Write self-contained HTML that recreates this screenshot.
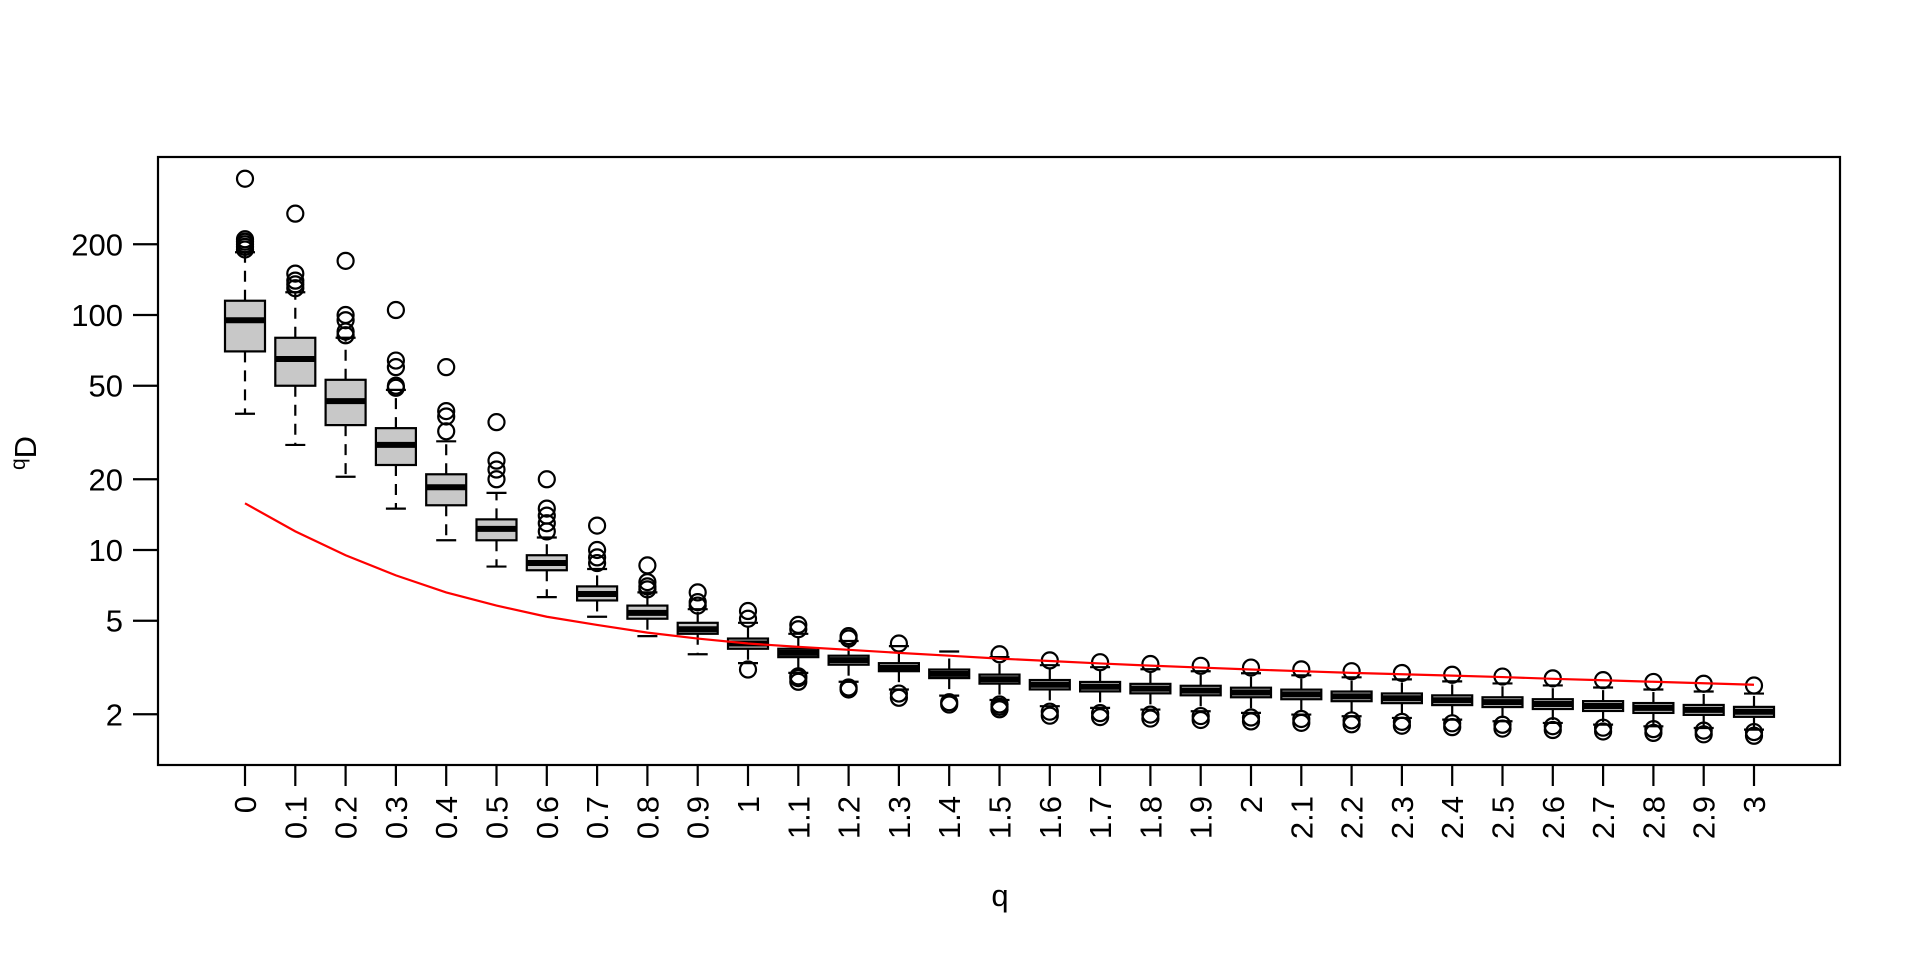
<!DOCTYPE html>
<html><head><meta charset="utf-8"><style>
html,body{margin:0;padding:0;background:#fff;}
svg{display:block;font-family:"Liberation Sans",Arial,sans-serif;}
</style></head><body>
<svg id="s" width="1920" height="960" xmlns="http://www.w3.org/2000/svg"></svg>
<script>
const s=document.getElementById('s');
let h='';
const Y=v=>550-235*Math.log10(v/10);
const X=i=>245+i*50.3;
const SW=2.2;
h+=`<rect x="158" y="157" width="1682" height="608" fill="none" stroke="#000" stroke-width="${SW}"/>`;
[[200,'200'],[100,'100'],[50,'50'],[20,'20'],[10,'10'],[5,'5'],[2,'2']].forEach(([v,t])=>{
 const y=Y(v);h+=`<line x1="133" x2="158" y1="${y}" y2="${y}" stroke="#000" stroke-width="${SW}"/>`;
 h+=`<text x="123" y="${y+11}" font-size="31" text-anchor="end">${t}</text>`;});
const D=[
[70,115,95,38,185,[190,195,200,205,210,380]],
[50,80,65,28,125,[130,135,140,150,270]],
[34,53,43,20.5,80,[82,85,95,100,170]],
[23,33,28,15,48,[49,50,60,64,105]],
[15.5,21,18.5,11,29,[32,37,39,60]],
[11,13.5,12.3,8.5,17.5,[20,22,24,35]],
[8.2,9.5,8.8,6.3,11.3,[12,13,14,15,20]],
[6.1,7,6.5,5.2,8.3,[8.8,9.3,10,12.7]],
[5.1,5.8,5.4,4.3,6.6,[6.8,7,7.3,8.6]],
[4.4,4.9,4.6,3.6,5.6,[5.8,6,6.6]],
[3.8,4.2,4.0,3.3,4.9,[3.1,5.1,5.5]],
[3.5,3.8,3.65,3.0,4.4,[2.75,2.85,2.9,4.6,4.8]],
[3.25,3.55,3.4,2.75,4.1,[2.55,2.6,4.2,4.3]],
[3.05,3.3,3.15,2.55,3.9,[2.35,2.45,4.0]],
[2.85,3.1,2.97,2.4,3.7,[2.2,2.25]],
[2.7,2.95,2.82,2.3,3.5,[2.1,2.15,2.2,3.6]]];
for(let i=16;i<=30;i++){const f=(i-15)/15;const g=(a,b)=>a*Math.pow(b/a,f);
 D.push([g(2.6,1.95),g(2.85,2.15),g(2.72,2.05),g(2.2,1.72),g(3.3,2.45),[g(2.0,1.62),g(2.08,1.68),g(3.45,2.65)]]);}
D.forEach((d,i)=>{const x=X(i),w=20,c=10;
 h+=`<line x1="${x}" x2="${x}" y1="${Y(d[1])}" y2="${Y(d[4])}" stroke="#000" stroke-width="${SW}" stroke-dasharray="11,8"/>`;
 h+=`<line x1="${x}" x2="${x}" y1="${Y(d[0])}" y2="${Y(d[3])}" stroke="#000" stroke-width="${SW}" stroke-dasharray="11,8"/>`;
 h+=`<line x1="${x-c}" x2="${x+c}" y1="${Y(d[4])}" y2="${Y(d[4])}" stroke="#000" stroke-width="${SW}"/>`;
 h+=`<line x1="${x-c}" x2="${x+c}" y1="${Y(d[3])}" y2="${Y(d[3])}" stroke="#000" stroke-width="${SW}"/>`;
 h+=`<rect x="${x-w}" y="${Y(d[1])}" width="${2*w}" height="${Y(d[0])-Y(d[1])}" fill="#c8c8c8" stroke="#000" stroke-width="${SW}"/>`;
 h+=`<line x1="${x-w}" x2="${x+w}" y1="${Y(d[2])}" y2="${Y(d[2])}" stroke="#000" stroke-width="6"/>`;
 d[5].forEach(v=>{h+=`<circle cx="${x}" cy="${Y(v)}" r="8" fill="none" stroke="#000" stroke-width="${SW}"/>`;});
 h+=`<line x1="${x}" x2="${x}" y1="765" y2="786" stroke="#000" stroke-width="${SW}"/>`;
 const t=(i/10).toString();
 h+=`<text transform="translate(${x+11},796) rotate(-90)" font-size="31" text-anchor="end">${t}</text>`;
});
const R=[15.8,12,9.5,7.8,6.6,5.8,5.2,4.8,4.45,4.2,4.0,3.87,3.76,3.65,3.55,3.45,3.37,3.29,3.22,3.16,3.1,3.05,3.0,2.96,2.92,2.88,2.83,2.79,2.75,2.71,2.67];
h+='<polyline fill="none" stroke="#ff0000" stroke-width="2.2" points="'+R.map((v,i)=>X(i)+','+Y(v)).join(' ')+'"/>';
h+='<text x="1000" y="906" font-size="31" text-anchor="middle">q</text>';
h+='<text transform="translate(36,453) rotate(-90)" font-size="31" text-anchor="middle"><tspan font-size="21" dy="-11">q</tspan><tspan dy="11">D</tspan></text>';
s.innerHTML=h;
</script>
</body></html>
